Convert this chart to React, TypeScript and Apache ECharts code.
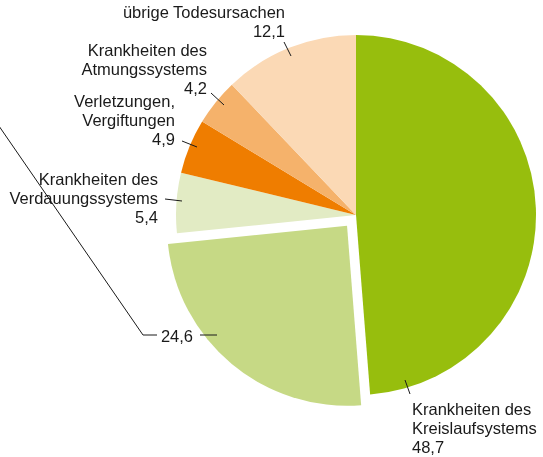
import React, { useEffect, useRef } from "react";
import * as echarts from "echarts";

const categories = [
  "Krankheiten des\nKreislaufsystems",
  "",
  "Krankheiten des\nVerdauungssystems",
  "Verletzungen,\nVergiftungen",
  "Krankheiten des\nAtmungssystems",
  "übrige Todesursachen",
];
const values = [48.7, 24.6, 5.4, 4.9, 4.2, 12.1];
const colors = ["#97be0d", "#c6d985", "#e2ebc4", "#ef7d00", "#f5b26b", "#fbd9b5"];
const explodedIndex = 1;

// label layout (x, y of text anchor, alignment, leader line points)
const labelLayouts = [
  { x: 412, y: 428, align: "left", line: [[405, 380], [410, 394]] },
  { x: 193, y: 336, align: "right", line: [[217, 335], [200, 335]] },
  { x: 158, y: 198, align: "right", line: [[182, 201], [165, 199]] },
  { x: 175, y: 120, align: "right", line: [[197, 147], [182, 141]] },
  { x: 207, y: 69, align: "right", line: [[224, 105], [211, 93]] },
  { x: 285, y: 21, align: "right", line: [[291, 56], [284, 42]] },
];
const extraLeader = [[-10, 113], [143, 335], [157, 335]];

const TEXT = "#1a1a1a";
const FONT = "'Liberation Sans', Arial, sans-serif";
const FONT_SIZE = 16.5;
const LINE_HEIGHT = 19;

const fmt = (v: number) => v.toFixed(1).replace(".", ",");

export default function App() {
  const ref = useRef<HTMLDivElement>(null);
  useEffect(() => {
    if (!ref.current) return;
    const chart = echarts.init(ref.current, null, { renderer: "svg" });
    const leaderGraphics = labelLayouts.map((l) => ({
      type: "polyline",
      z: 100,
      shape: { points: l.line },
      style: { stroke: TEXT, lineWidth: 1, fill: null },
      silent: true,
    }));
    const explodedLabel = labelLayouts[explodedIndex];
    chart.setOption({
      animation: false,
      textStyle: { fontFamily: FONT },
      series: [
        {
          type: "pie",
          center: [356, 215],
          radius: 180,
          startAngle: 90,
          clockwise: true,
          selectedMode: "single",
          selectedOffset: 14,
          avoidLabelOverlap: false,
          emphasis: { disabled: true },
          select: { itemStyle: { borderWidth: 0 } },
          itemStyle: { borderWidth: 0 },
          label: {
            show: true,
            position: "outside",
            color: TEXT,
            fontSize: FONT_SIZE,
            lineHeight: LINE_HEIGHT,
            fontFamily: FONT,
            formatter: (p: any) => `${p.name}\n${fmt(p.value)}`,
          },
          labelLine: { show: false },
          labelLayout: (params: any) => {
            const l = labelLayouts[params.dataIndex];
            return {
              x: l.x,
              y: l.y,
              align: l.align,
              verticalAlign: "middle",
            };
          },
          data: values.map((v, i) => ({
            name: categories[i],
            value: v,
            selected: i === explodedIndex,
            label: i === explodedIndex ? { show: false } : undefined,
            itemStyle: { color: colors[i] },
          })),
        },
      ],
      graphic: [
        ...leaderGraphics,
        {
          type: "polyline",
          z: 100,
          shape: { points: extraLeader },
          style: { stroke: TEXT, lineWidth: 1, fill: null },
          silent: true,
        },
        {
          type: "text",
          z: 100,
          x: explodedLabel.x,
          y: explodedLabel.y,
          silent: true,
          style: {
            text: fmt(values[explodedIndex]),
            fill: TEXT,
            font: `${FONT_SIZE}px ${FONT}`,
            align: "right",
            verticalAlign: "middle",
          },
        },
      ],
    });
    return () => chart.dispose();
  }, []);
  return (
    <div
      ref={ref}
      style={{ position: "fixed", left: 0, top: 0, width: 543, height: 457 }}
    />
  );
}
